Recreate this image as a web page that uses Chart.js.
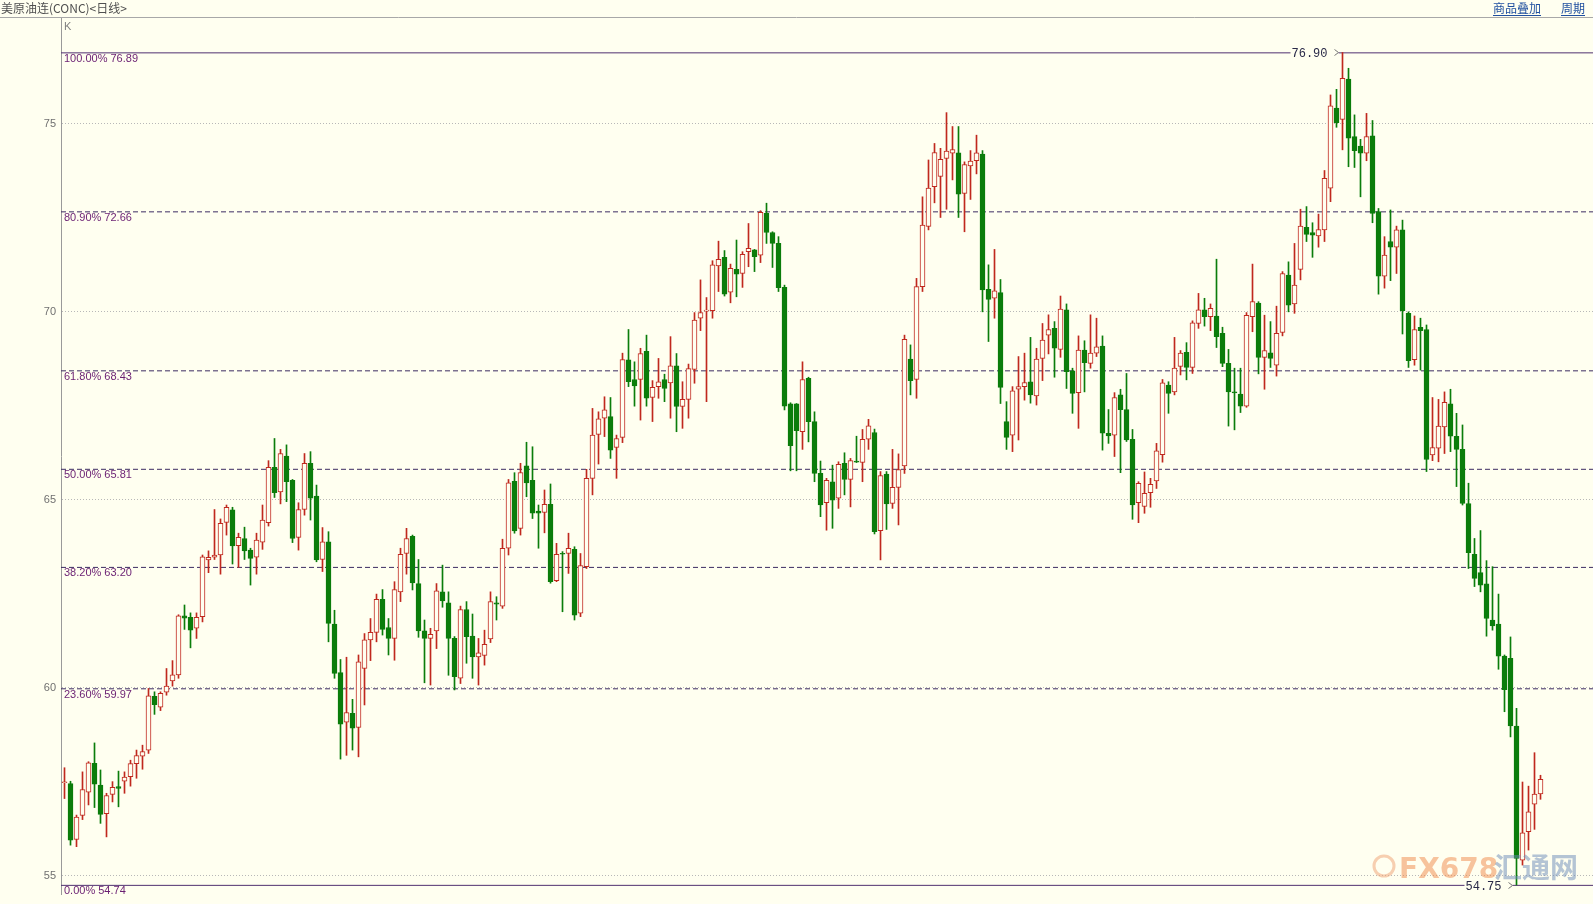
<!DOCTYPE html>
<html>
<head>
<meta charset="utf-8">
<script src="https://cdn.jsdelivr.net/npm/chart.js@4.4.0/dist/chart.umd.min.js"></script>
<style>
    html, body { margin: 0; padding: 0; background: #fffff0; }
    #wrap { width: 1593px; height: 904px; }
</style>
</head>
<body>
<div id="wrap"><canvas id="kChart" width="1593" height="904"></canvas></div>
<script>
// 日K数据 (开/高/低/收)
var opens = [57.47,57.45,55.96,56.60,57.22,57.99,57.41,56.65,57.16,57.37,57.51,57.63,57.98,58.18,58.34,59.77,59.48,59.88,60.18,60.34,
    61.91,61.87,61.58,61.89,63.40,63.47,63.53,64.40,64.73,63.78,63.97,63.66,63.47,63.87,64.39,65.86,65.21,66.16,65.52,64.00,
    64.74,65.97,65.10,63.41,63.88,61.69,60.40,59.08,59.32,58.94,60.51,61.27,61.47,62.35,61.60,61.31,62.55,63.57,64.03,62.77,
    61.51,61.31,61.51,62.55,62.26,61.31,60.25,62.08,61.37,60.82,60.86,61.30,62.26,62.17,63.71,65.49,64.24,65.90,65.52,64.70,
    64.66,64.88,62.85,63.57,63.57,63.68,61.98,63.22,65.57,66.74,67.17,67.21,66.39,66.66,68.72,68.20,68.20,68.95,67.72,68.01,
    68.20,68.11,68.56,67.48,67.67,68.47,69.83,70.02,70.03,71.22,71.45,70.52,71.13,71.02,71.60,71.65,71.51,72.62,72.11,71.82,
    70.65,67.55,67.55,66.81,68.23,67.08,65.70,64.92,65.48,65.04,65.97,65.54,66.02,65.99,66.61,66.79,64.18,65.68,64.90,65.33,
    65.90,68.74,68.20,70.67,72.27,73.33,73.60,74.08,74.22,74.23,73.15,73.88,74.02,74.20,70.60,70.36,70.51,67.08,66.72,67.94,
    68.01,68.14,67.76,68.76,69.38,69.56,69.00,70.05,68.43,67.85,68.98,68.63,68.90,69.09,66.77,66.72,67.79,67.40,66.61,64.92,
    64.82,65.19,65.50,66.20,68.05,67.87,68.55,68.92,68.52,69.69,70.05,69.87,69.89,69.43,68.63,67.87,67.81,67.49,69.87,70.23,
    68.79,68.91,68.58,69.45,70.98,70.21,71.13,72.25,72.11,72.02,72.18,73.29,75.42,75.12,76.19,74.66,74.41,74.22,74.68,72.67,
    70.95,71.87,71.72,72.18,69.96,68.73,69.59,69.53,66.19,66.37,66.94,67.55,66.69,66.34,64.90,63.55,63.06,62.76,61.80,61.69,
    60.84,60.78,58.98,55.41,56.17,56.90,57.17];
var highs = [57.87,57.51,56.61,57.76,58.03,58.53,57.81,57.19,57.50,57.78,57.76,58.07,58.34,58.47,59.98,59.89,59.89,60.51,60.72,61.94,
    62.20,61.99,61.99,63.53,63.64,64.74,64.49,64.86,64.80,64.11,64.27,63.71,64.11,64.86,66.04,66.63,66.34,66.46,65.54,64.92,
    66.23,66.28,65.39,64.26,64.15,62.06,60.75,60.81,59.69,60.87,61.44,61.84,62.49,62.61,61.84,62.82,63.71,64.24,64.06,63.41,
    61.80,61.58,62.77,63.26,62.55,61.36,62.17,62.29,61.96,61.31,61.53,62.55,62.42,63.95,65.54,65.72,65.97,66.53,66.41,64.86,
    65.26,65.42,63.84,63.62,64.11,63.75,63.57,65.81,67.43,67.34,67.74,67.72,66.72,68.90,69.53,68.67,69.03,69.38,68.17,68.76,
    68.34,69.34,68.89,68.14,68.61,69.98,70.85,70.38,71.36,71.88,71.63,71.27,71.91,71.60,72.35,71.66,72.69,72.89,72.13,72.00,
    70.71,67.58,67.56,68.67,68.26,67.34,66.03,65.57,65.92,66.01,66.25,66.10,66.69,66.87,67.14,66.88,65.75,65.75,66.34,66.22,
    69.38,69.12,70.89,73.06,74.04,74.48,74.35,75.30,74.93,74.93,73.99,74.29,74.70,74.29,71.25,71.66,70.86,67.61,68.01,68.81,
    68.90,69.32,69.03,69.69,69.92,69.74,70.42,70.21,68.50,69.36,69.23,69.92,69.83,69.36,67.40,67.85,67.94,68.36,66.87,65.48,
    65.74,65.57,66.50,68.20,68.14,69.32,68.97,69.18,69.76,70.49,70.36,70.21,71.40,69.59,69.00,68.50,68.50,69.98,71.27,70.27,
    69.91,69.74,70.15,71.07,71.33,71.82,72.73,72.80,72.37,72.60,73.76,75.77,75.92,76.90,76.48,75.24,74.59,75.28,75.09,72.75,
    72.00,72.71,72.28,72.44,70.00,69.89,69.83,69.65,67.72,67.67,67.87,67.94,67.30,66.99,65.44,63.97,64.18,63.38,63.22,62.49,
    60.87,61.35,59.45,57.49,57.38,58.27,57.67];
var lows = [57.05,55.81,55.77,56.49,56.88,56.81,56.39,56.03,56.96,56.83,57.19,57.38,57.59,57.83,58.25,59.29,59.39,59.80,60.04,60.25,
    61.55,61.06,61.31,61.75,63.06,63.41,63.02,64.06,63.29,63.20,63.41,62.73,63.02,63.68,64.30,65.06,64.89,64.95,63.86,63.66,
    64.59,64.46,63.35,63.09,61.22,60.25,58.10,58.20,58.34,58.16,59.54,60.72,61.22,61.40,60.87,60.73,62.29,63.02,62.60,61.34,
    60.13,60.07,61.04,62.14,60.33,59.94,60.11,60.65,60.25,60.07,60.60,61.20,61.80,62.11,63.53,64.11,64.06,65.08,64.50,63.71,
    64.12,62.78,62.82,62.02,63.04,61.80,61.89,63.17,65.13,65.95,66.68,66.10,65.57,66.52,68.01,67.49,67.12,67.49,67.08,67.70,
    67.61,67.17,66.81,66.90,67.17,68.10,69.50,67.61,69.83,70.54,70.42,70.24,70.40,70.65,71.20,71.07,71.31,71.82,71.18,70.54,
    67.39,65.77,65.77,66.34,66.54,65.48,64.55,64.19,64.24,64.77,65.13,64.81,65.99,65.48,66.34,64.09,63.40,64.21,64.77,64.33,
    65.70,67.79,67.70,70.54,72.18,72.90,72.51,72.73,73.51,72.51,72.13,72.99,73.67,70.00,69.21,69.83,67.56,66.34,66.28,66.59,
    67.65,67.57,67.52,68.17,68.88,68.26,68.79,67.96,67.30,66.90,67.87,68.50,68.81,66.32,66.50,66.15,65.72,66.55,64.48,64.39,
    64.64,64.80,65.30,66.00,67.30,67.79,68.32,68.19,68.36,69.56,69.62,69.50,69.05,68.54,66.96,66.86,67.32,67.46,69.47,68.35,
    67.94,68.52,68.29,69.36,70.00,69.96,70.85,71.87,71.45,71.72,71.87,72.93,74.91,74.31,73.86,73.84,73.06,74.02,72.37,70.47,
    70.63,70.83,71.02,69.41,68.52,68.58,68.45,65.75,66.04,66.01,66.23,66.28,65.35,64.86,63.17,62.69,62.55,61.37,61.53,60.49,
    59.36,58.69,54.75,55.28,55.68,56.23,57.03];
var closes = [57.49,55.94,56.56,57.29,58.00,57.43,56.63,57.13,57.35,57.32,57.62,57.98,58.19,58.30,59.78,59.55,59.85,60.04,60.34,61.91,
    61.85,61.53,61.87,63.48,63.47,63.53,64.37,64.80,63.77,64.00,63.64,63.44,63.93,64.46,65.86,65.19,66.23,65.48,63.97,64.74,
    65.97,65.04,63.40,63.88,61.71,60.38,59.03,59.34,58.92,60.69,61.27,61.47,62.35,61.55,61.31,62.61,63.55,63.97,62.79,61.51,
    61.31,61.42,62.58,62.31,61.31,60.29,62.08,61.36,60.82,60.93,61.15,62.29,62.22,63.71,65.45,64.17,65.72,65.45,64.64,64.64,
    64.88,62.82,63.55,63.55,63.71,61.93,63.25,65.57,66.72,67.15,67.39,66.32,66.63,68.73,68.14,68.03,68.89,67.70,67.99,68.14,
    67.96,68.56,67.48,67.67,68.49,69.78,69.98,70.04,71.25,71.40,70.47,71.16,71.00,71.53,71.69,71.47,72.65,72.11,71.82,70.64,
    67.49,66.44,66.84,68.20,67.08,65.70,64.86,65.52,64.99,65.94,65.54,66.04,66.00,66.61,66.97,64.15,65.64,64.89,65.33,65.80,
    69.27,68.17,70.67,72.31,73.29,74.24,74.06,74.28,74.32,73.13,73.92,74.01,74.23,70.58,70.33,70.56,67.99,66.66,67.90,68.01,
    68.12,67.79,68.74,69.25,69.53,69.03,70.07,68.41,67.83,68.98,68.65,68.90,69.07,66.77,66.70,67.72,67.40,66.59,64.86,65.44,
    65.17,65.41,66.30,68.11,67.83,68.50,68.90,68.52,69.71,70.05,69.87,70.09,69.34,68.63,67.87,67.84,67.49,69.91,70.27,68.79,
    68.97,68.76,69.43,71.02,70.18,70.71,72.28,72.06,72.04,72.19,73.55,75.48,75.03,76.21,74.62,74.29,74.22,74.66,72.62,70.95,
    71.51,71.72,72.18,70.03,68.70,69.53,69.50,66.07,66.39,66.96,67.59,66.69,66.34,64.90,63.59,62.91,62.73,61.84,61.64,60.84,
    59.95,58.98,55.46,56.14,56.70,57.17,57.56];

// 斐波那契回撤位
var fibPct = ['100.00%', '80.90%', '61.80%', '50.00%', '38.20%', '23.60%', '0.00%'];
var fibVal = [76.89, 72.66, 68.43, 65.81, 63.20, 59.97, 54.74];

// 纵轴刻度
var yTicks = [55, 60, 65, 70, 75];

// 最高/最低标注
var hiMark = {idx: 213, val: 76.90};
var loMark = {idx: 242, val: 54.75};

document.addEventListener('DOMContentLoaded', function () {
    var ctx = document.getElementById('kChart').getContext('2d');

    var BG = '#fffff0';
    var UP = '#c0281e';
    var DOWN = '#0b7d0b';

    // 坐标范围: 75 -> y≈124, 每单位≈37.6px, 每根K线6px
    var areaTop = 18, areaBottom = 894, pxPerUnit = 37.585;
    var yMax = 75 + (123.9 - areaTop) / pxPerUnit;
    var yMin = yMax - (areaBottom - areaTop) / pxPerUnit;
    var xMin = -0.5 - 0.5 / 6;
    var xMax = xMin + (1593 - 61) / 6;

    var bodies = [], wicks = [], bodyFill = [], lineCol = [];
    opens.forEach(function (o, i) {
        var isUp = closes[i] >= o;
        bodies.push({x: i, y: [o, closes[i]]});
        wicks.push({x: i, y: [lows[i], highs[i]]});
        bodyFill.push(isUp ? BG : DOWN);
        lineCol.push(isUp ? UP : DOWN);
    });

    var datasets = [{
        type: 'bar',
        label: 'body',
        data: bodies,
        backgroundColor: bodyFill,
        borderColor: lineCol,
        borderWidth: 1,
        borderSkipped: false,
        barThickness: 5,
        maxBarThickness: 5,
        minBarLength: 1,
        grouped: false,
        order: 1
    }, {
        type: 'bar',
        label: 'wick',
        data: wicks,
        backgroundColor: lineCol,
        borderWidth: 0,
        barThickness: 1,
        maxBarThickness: 1,
        grouped: false,
        order: 2
    }];

    // 回撤线
    fibVal.forEach(function (v, k) {
        var edge = (k === 0 || k === fibVal.length - 1);
        datasets.push({
            type: 'line',
            label: fibPct[k],
            data: [{x: xMin, y: v}, {x: xMax, y: v}],
            borderColor: edge ? '#503070' : '#3c2c62',
            borderWidth: 1,
            borderDash: edge ? [] : [5, 3],
            pointRadius: 0,
            order: 3
        });
    });

    var overlay = {
        id: 'overlay',
        afterDatasetsDraw: function (chart) {
            var c = chart.ctx, ys = chart.scales.y, xs = chart.scales.x;
            c.save();
            // 回撤位文字
            c.font = '11px "Liberation Sans"';
            c.fillStyle = '#6a1f72';
            c.textBaseline = 'middle';
            c.textAlign = 'left';
            fibVal.forEach(function (v, k) {
                c.fillText(fibPct[k] + ' ' + v.toFixed(2), 64, ys.getPixelForValue(v) + 6);
            });

            // 最高/最低价标注
            c.font = '12px "Liberation Mono"';
            [hiMark, loMark].forEach(function (m) {
                var px = xs.getPixelForValue(m.idx) - 2;
                var py = Math.round(ys.getPixelForValue(m.val)) + 0.5;
                c.textAlign = 'right';
                c.fillStyle = BG;
                c.fillRect(px - 50, py - 4, 48, 8);
                c.fillStyle = '#2a2a48';
                c.fillText(m.val.toFixed(2), px - 13, py + 1);
                c.strokeStyle = '#777';
                c.lineWidth = 1;
                c.beginPath();
                c.moveTo(px - 6, py - 3);
                c.lineTo(px - 2, py);
                c.lineTo(px - 6, py + 3);
                c.stroke();
            });

            // 水印
            c.globalAlpha = 0.5;
            c.textAlign = 'left';
            c.textBaseline = 'alphabetic';
            c.strokeStyle = '#f0a070';
            c.lineWidth = 3;
            c.beginPath();
            c.arc(1384, 866, 10, 0, Math.PI * 2);
            c.stroke();
            c.font = 'bold 28px "DejaVu Sans"';
            c.fillStyle = '#f08848';
            c.fillText('FX678', 1399, 878);
            c.font = 'bold 28px "Noto Sans CJK SC"';
            c.fillStyle = '#6a8ab8';
            c.fillText('汇通网', 1494, 878);
            c.restore();
        },
        afterDraw: function (chart) {
            var c = chart.ctx;
            c.save();
            c.strokeStyle = '#a8a8a8';
            c.lineWidth = 1;
            c.beginPath();
            c.moveTo(0, 17.5);
            c.lineTo(1593, 17.5);
            c.stroke();
            c.textBaseline = 'middle';
            c.font = '12px "Noto Sans CJK SC"';
            c.fillStyle = '#505050';
            c.fillText('美原油连(CONC)<日线>', 1, 8);
            c.font = '11px "Liberation Sans"';
            c.fillStyle = '#808080';
            c.fillText('K', 64, 27);
            // 右上角链接
            c.font = '12px "Noto Sans CJK SC"';
            c.fillStyle = '#1f4f9f';
            c.fillText('商品叠加', 1493, 8);
            c.fillText('周期', 1561, 8);
            c.fillRect(1493, 15, 48, 1);
            c.fillRect(1561, 15, 24, 1);
            c.restore();
        }
    };

    new Chart(ctx, {
        data: {datasets: datasets},
        options: {
            responsive: false,
            animation: false,
            layout: {padding: {top: areaTop, bottom: 904 - areaBottom, left: 0, right: 0}},
            plugins: {legend: {display: false}, tooltip: {enabled: false}},
            scales: {
                x: {
                    type: 'linear',
                    min: xMin,
                    max: xMax,
                    offset: false,
                    display: false
                },
                y: {
                    type: 'linear',
                    min: yMin,
                    max: yMax,
                    afterFit: function (s) {
                        s.width = 61;
                        s.paddingTop = 0;
                        s.paddingBottom = 0;
                    },
                    afterBuildTicks: function (s) {
                        s.ticks = yTicks.map(function (v) { return {value: v}; });
                    },
                    ticks: {
                        color: '#707070',
                        font: {family: 'Liberation Sans', size: 11},
                        padding: 5
                    },
                    grid: {color: '#b8b8b8', drawTicks: false},
                    border: {display: true, color: '#9a9a9a', dash: [1, 2]}
                }
            }
        },
        plugins: [overlay]
    });
});
</script>
</body>
</html>
